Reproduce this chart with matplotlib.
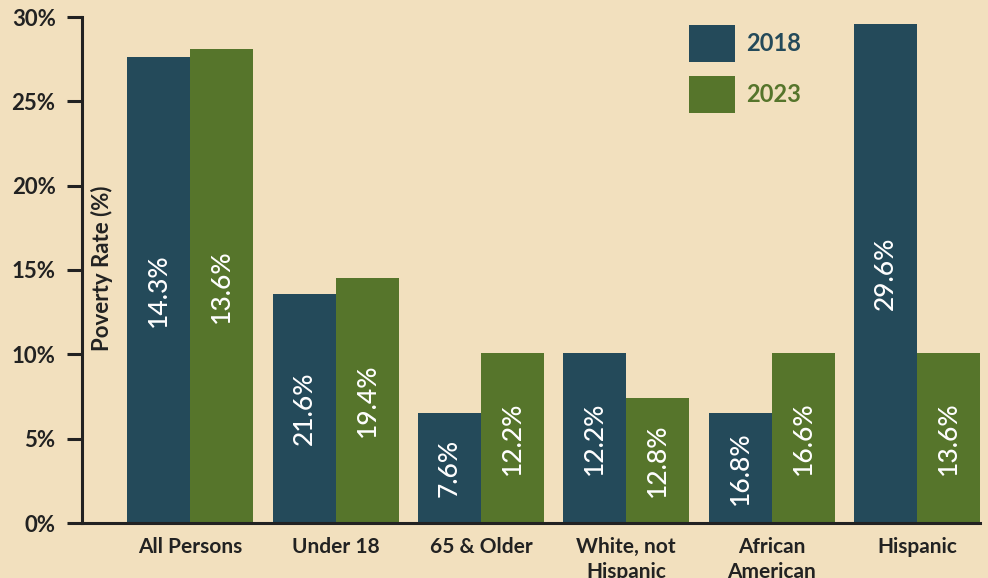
import matplotlib
matplotlib.use("Agg")
import matplotlib.pyplot as plt
from matplotlib.patches import Patch
import numpy as np

plt.rcParams['font.family'] = ['Lato', 'DejaVu Sans']

categories = ["All Persons", "Under 18", "65 & Older", "White, not\nHispanic", "African\nAmerican", "Hispanic"]
series_names = ["2018", "2023"]
# bar heights as drawn in the picture
heights_2018 = [27.6, 13.6, 6.5, 10.1, 6.5, 29.6]
heights_2023 = [28.1, 14.5, 10.1, 7.4, 10.1, 10.1]
# value labels printed inside the bars
labels_2018 = [14.3, 21.6, 7.6, 12.2, 16.8, 29.6]
labels_2023 = [13.6, 19.4, 12.2, 12.8, 16.6, 13.6]
yticks = [0, 5, 10, 15, 20, 25, 30]

BG = "#F2E0BE"
NAVY = "#244A5A"
GREEN = "#56752B"
DARK = "#222222"

fig = plt.figure(figsize=(9.88, 5.78), dpi=100, facecolor=BG)
ax = fig.add_axes([82/988, 1-523/578, (980-82)/988, (523-17)/578])
ax.set_facecolor(BG)

x = np.arange(len(categories))
w = 0.434
b1 = ax.bar(x - w/2, heights_2018, width=w, color=NAVY, linewidth=0)
b2 = ax.bar(x + w/2, heights_2023, width=w, color=GREEN, linewidth=0)

for bars, labs in ((b1, labels_2018), (b2, labels_2023)):
    for rect, lab in zip(bars, labs):
        ax.text(rect.get_x() + rect.get_width()/2, rect.get_height()/2, f"{lab:.1f}%",
                rotation=90, ha='center', va='center', color='white', fontsize=19,
                fontweight='medium')

ax.set_xlim(-0.745, 5.434)
ax.set_ylim(0, 30)
ax.set_yticks(yticks)
ax.set_yticklabels([f"{t}%" for t in yticks], fontsize=16, fontweight='bold', color=DARK)
ax.set_xticks(x)
ax.set_xticklabels(categories, fontsize=15, fontweight='bold', color=DARK, linespacing=1.3)
ax.tick_params(axis='x', length=0, pad=10)
ax.tick_params(axis='y', length=11, width=2.2, color=DARK, pad=8)
for s in ('top', 'right'):
    ax.spines[s].set_visible(False)
for s in ('left', 'bottom'):
    ax.spines[s].set_linewidth(2.2)
    ax.spines[s].set_color(DARK)

fig.text(102/988, 1-268/578, "Poverty Rate (%)", rotation=90, ha='center', va='center',
         fontsize=16, fontweight='bold', color=DARK)

handles = [Patch(facecolor=NAVY, edgecolor='none'), Patch(facecolor=GREEN, edgecolor='none')]
leg = ax.legend(handles, series_names, loc='upper left', bbox_to_anchor=(689/988, 1-25/578),
                bbox_transform=fig.transFigure, frameon=False, borderpad=0, borderaxespad=0,
                prop={'family': 'Lato', 'weight': 'bold', 'size': 17},
                handlelength=1.95, handleheight=2.04, labelspacing=0.6, handletextpad=0.47)
for t, c in zip(leg.get_texts(), (NAVY, GREEN)):
    t.set_color(c)

fig.savefig("out.png", dpi=100, facecolor=BG)
